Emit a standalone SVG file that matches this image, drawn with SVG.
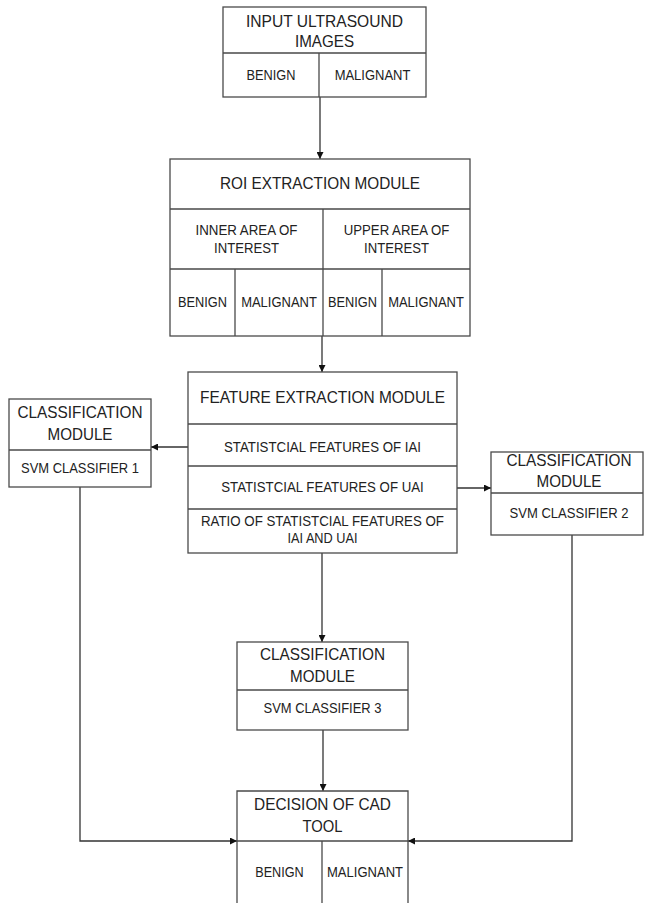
<svg xmlns="http://www.w3.org/2000/svg" width="647" height="903" viewBox="0 0 647 903">
<style>
.box{fill:#fff;stroke:#4a4a4a;stroke-width:1.3}
.ln{fill:none;stroke:#4a4a4a;stroke-width:1.3}
.t{font-family:"Liberation Sans",Arial,sans-serif;font-size:17px;fill:#222;text-anchor:middle}
.s{font-family:"Liberation Sans",Arial,sans-serif;font-size:15px;fill:#222;text-anchor:middle}
.c{fill:none;stroke:#333;stroke-width:1.3}
</style>
<defs>
<marker id="ah" viewBox="0 0 10 10" refX="10" refY="5" markerWidth="7" markerHeight="7" markerUnits="userSpaceOnUse" orient="auto">
<path d="M0,0 L10,5 L0,10 z" fill="#111"/>
</marker>
</defs>
<rect width="647" height="903" fill="#fff"/>
<g id="connectors">
<path class="c" d="M320,97 V159" marker-end="url(#ah)"/>
<path class="c" d="M322,336 V372" marker-end="url(#ah)"/>
<path class="c" d="M188,447 H151" marker-end="url(#ah)"/>
<path class="c" d="M457,488 H491" marker-end="url(#ah)"/>
<path class="c" d="M322,553 V642" marker-end="url(#ah)"/>
<path class="c" d="M323,730 V791" marker-end="url(#ah)"/>
<path class="c" d="M80,487 V841 H237" marker-end="url(#ah)"/>
<path class="c" d="M572,535 V841 H408" marker-end="url(#ah)"/>
</g>
<g id="input">
<rect class="box" x="223" y="7" width="203" height="90"/>
<path class="ln" d="M223,53 H426 M319,53 V97"/>
<text class="t" x="324.5" y="27" textLength="157" lengthAdjust="spacingAndGlyphs">INPUT ULTRASOUND</text>
<text class="t" x="324.5" y="47" textLength="59" lengthAdjust="spacingAndGlyphs">IMAGES</text>
<text class="s" x="271" y="80" textLength="49" lengthAdjust="spacingAndGlyphs">BENIGN</text>
<text class="s" x="372.5" y="80" textLength="75.7" lengthAdjust="spacingAndGlyphs">MALIGNANT</text>
</g>
<g id="roi">
<rect class="box" x="170" y="159" width="300" height="177"/>
<path class="ln" d="M170,209 H470 M170,269 H470 M323,209 V336 M235,269 V336 M382,269 V336"/>
<text class="t" x="320" y="189" textLength="200" lengthAdjust="spacingAndGlyphs">ROI EXTRACTION MODULE</text>
<text class="s" x="246.5" y="235" textLength="102" lengthAdjust="spacingAndGlyphs">INNER AREA OF</text>
<text class="s" x="246.5" y="253" textLength="65" lengthAdjust="spacingAndGlyphs">INTEREST</text>
<text class="s" x="396.5" y="235" textLength="105.5" lengthAdjust="spacingAndGlyphs">UPPER AREA OF</text>
<text class="s" x="396.5" y="253" textLength="65" lengthAdjust="spacingAndGlyphs">INTEREST</text>
<text class="s" x="202.5" y="307" textLength="49" lengthAdjust="spacingAndGlyphs">BENIGN</text>
<text class="s" x="279" y="307" textLength="75.7" lengthAdjust="spacingAndGlyphs">MALIGNANT</text>
<text class="s" x="352.5" y="307" textLength="49" lengthAdjust="spacingAndGlyphs">BENIGN</text>
<text class="s" x="426" y="307" textLength="75.7" lengthAdjust="spacingAndGlyphs">MALIGNANT</text>
</g>
<g id="feature">
<rect class="box" x="188" y="372" width="269" height="181"/>
<path class="ln" d="M188,424 H457 M188,466 H457 M188,509 H457"/>
<text class="t" x="322.5" y="403" textLength="245" lengthAdjust="spacingAndGlyphs">FEATURE EXTRACTION MODULE</text>
<text class="s" x="322.5" y="452" textLength="197" lengthAdjust="spacingAndGlyphs">STATISTCIAL FEATURES OF IAI</text>
<text class="s" x="322.5" y="492" textLength="202.5" lengthAdjust="spacingAndGlyphs">STATISTCIAL FEATURES OF UAI</text>
<text class="s" x="322.5" y="526" textLength="243" lengthAdjust="spacingAndGlyphs">RATIO OF STATISTCIAL FEATURES OF</text>
<text class="s" x="322.5" y="543" textLength="70" lengthAdjust="spacingAndGlyphs">IAI AND UAI</text>
</g>
<g id="class1">
<rect class="box" x="9" y="399" width="142" height="88"/>
<path class="ln" d="M9,450 H151"/>
<text class="t" x="80" y="418" textLength="125" lengthAdjust="spacingAndGlyphs">CLASSIFICATION</text>
<text class="t" x="80" y="440" textLength="65" lengthAdjust="spacingAndGlyphs">MODULE</text>
<text class="s" x="80" y="473" textLength="118" lengthAdjust="spacingAndGlyphs">SVM CLASSIFIER 1</text>
</g>
<g id="class2">
<rect class="box" x="491" y="452" width="152" height="83"/>
<path class="ln" d="M491,493 H643"/>
<text class="t" x="569" y="466" textLength="125" lengthAdjust="spacingAndGlyphs">CLASSIFICATION</text>
<text class="t" x="569" y="487" textLength="65" lengthAdjust="spacingAndGlyphs">MODULE</text>
<text class="s" x="569" y="518" textLength="119" lengthAdjust="spacingAndGlyphs">SVM CLASSIFIER 2</text>
</g>
<g id="class3">
<rect class="box" x="237" y="642" width="171" height="88"/>
<path class="ln" d="M237,690 H408"/>
<text class="t" x="322.5" y="660" textLength="125" lengthAdjust="spacingAndGlyphs">CLASSIFICATION</text>
<text class="t" x="322.5" y="682" textLength="65" lengthAdjust="spacingAndGlyphs">MODULE</text>
<text class="s" x="322.5" y="713" textLength="118" lengthAdjust="spacingAndGlyphs">SVM CLASSIFIER 3</text>
</g>
<g id="decision">
<path class="ln" d="M237,904 V791 H408 V904 M237,841 H408 M322,841 V904"/>
<text class="t" x="322.5" y="810" textLength="137" lengthAdjust="spacingAndGlyphs">DECISION OF CAD</text>
<text class="t" x="322.5" y="832" textLength="40" lengthAdjust="spacingAndGlyphs">TOOL</text>
<text class="s" x="279.5" y="877" textLength="48.5" lengthAdjust="spacingAndGlyphs">BENIGN</text>
<text class="s" x="365" y="877" textLength="76" lengthAdjust="spacingAndGlyphs">MALIGNANT</text>
</g>
</svg>
